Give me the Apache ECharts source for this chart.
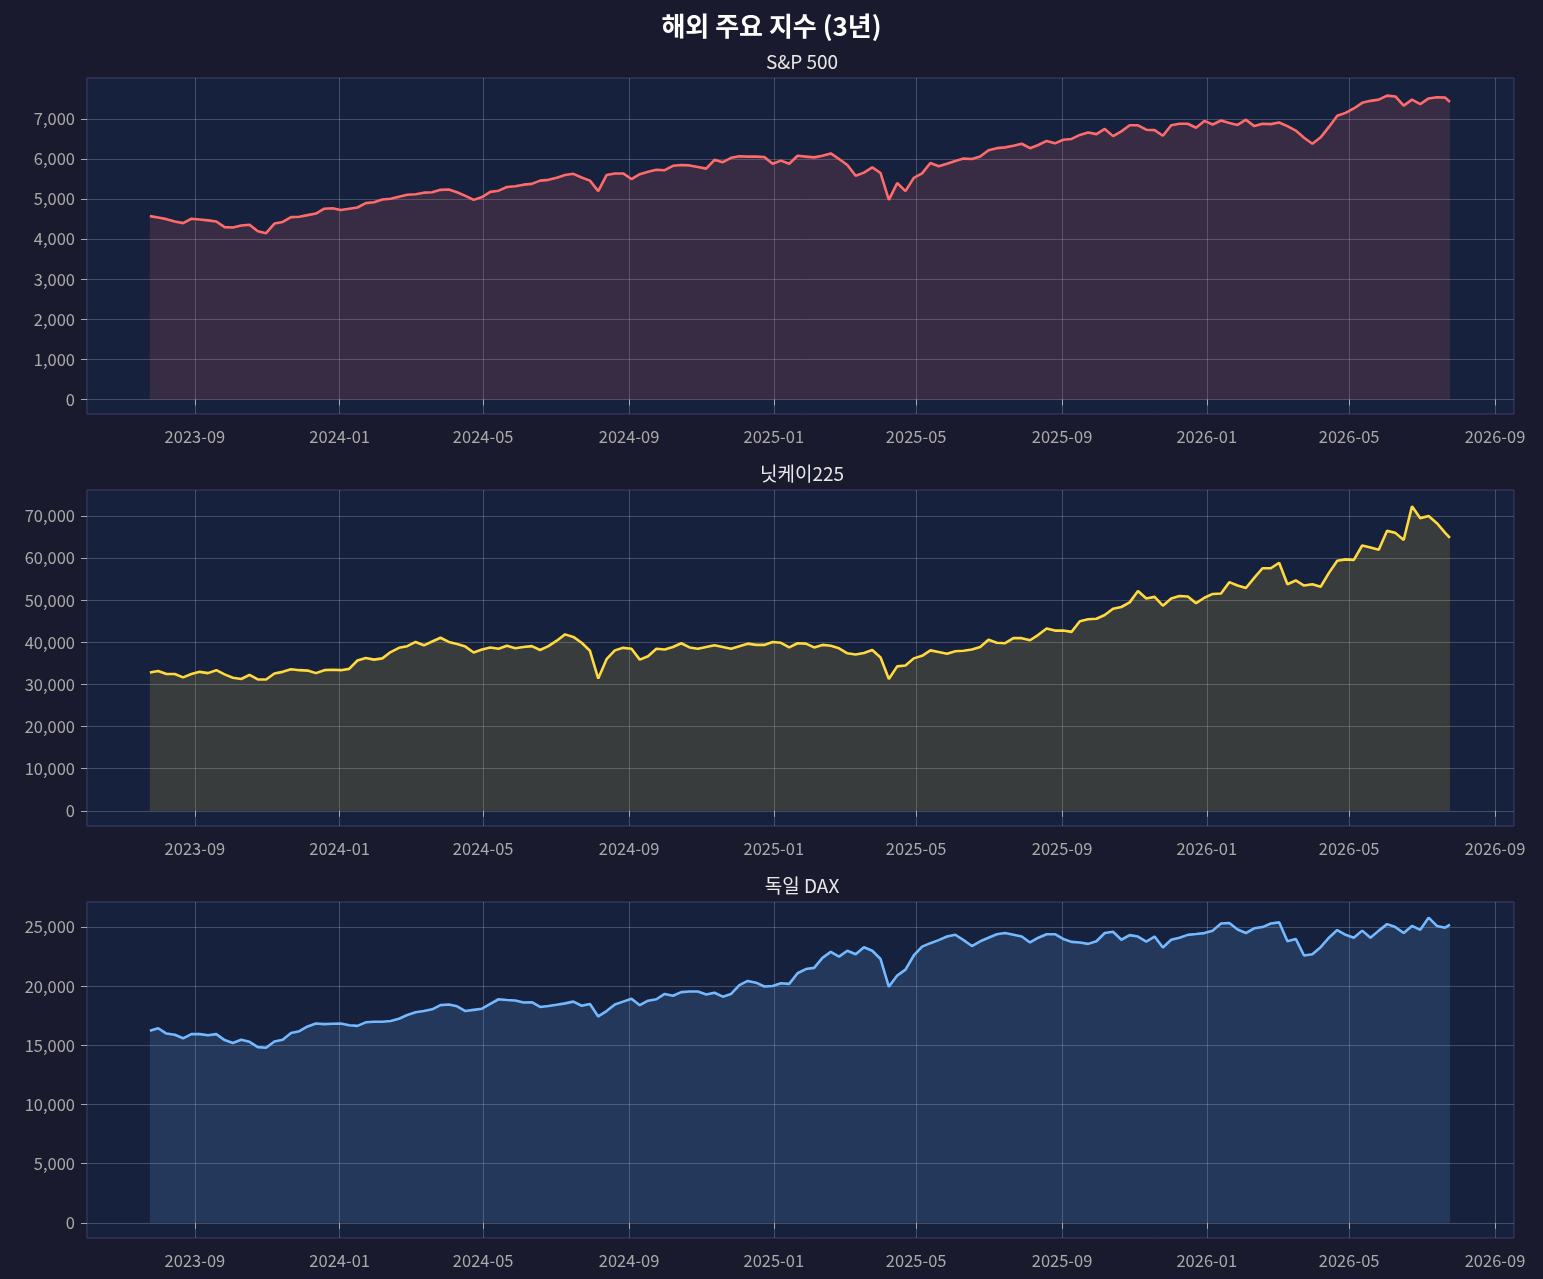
<!DOCTYPE html>
<html>
<head>
<meta charset="utf-8">
<script src="https://cdn.jsdelivr.net/npm/echarts@6/dist/echarts.min.js"></script>
<style>
html,body{margin:0;padding:0;background:#1a1a2e;}
#c{width:1543px;height:1279px;}
</style>
</head>
<body>
<div id="c"></div>
<script>
// ---- data (weekly samples) ----
const START_DATE = '2023-07-25';
const END_DATE = '2026-07-25';
const X_MIN_DATE = '2023-06-02';
const X_MAX_DATE = '2026-09-17';
const xTickLabels = ['2023-09','2024-01','2024-05','2024-09','2025-01','2025-05','2025-09','2026-01','2026-05','2026-09'];

const spx = [
4575,4540,4500,4440,4400,4510,4490,4470,4440,4300,
4290,4340,4360,4200,4150,4390,4430,4550,4560,4600,
4640,4760,4770,4730,4760,4790,4900,4920,4990,5010,
5060,5110,5120,5160,5170,5230,5240,5170,5080,4980,
5050,5180,5210,5300,5320,5360,5380,5460,5480,5530,
5600,5630,5540,5460,5200,5600,5640,5640,5500,5620,
5680,5730,5720,5830,5850,5840,5800,5760,5980,5920,
6030,6070,6060,6060,6050,5880,5960,5880,6080,6060,
6040,6080,6140,6000,5850,5580,5660,5790,5650,4980,
5400,5200,5530,5640,5900,5820,5880,5950,6010,6000,
6060,6220,6270,6290,6330,6380,6270,6350,6450,6390,
6480,6500,6600,6660,6620,6750,6570,6690,6840,6840,
6730,6720,6580,6840,6880,6880,6780,6950,6860,6960,
6900,6850,6980,6820,6880,6870,6910,6820,6710,6530,
6380,6540,6800,7080,7150,7260,7400,7450,7480,7580,
7560,7330,7480,7370,7510,7540,7530,7420
];
const nikkei = [
32850,33200,32500,32500,31700,32500,33000,32700,33400,32400,
31600,31300,32300,31200,31200,32600,33000,33600,33400,33300,
32700,33400,33500,33400,33700,35700,36300,35900,36200,37700,
38700,39100,40100,39300,40200,41100,40100,39600,39000,37600,
38300,38800,38500,39200,38600,38900,39100,38200,39100,40400,
41900,41300,39900,38000,31400,36000,38100,38700,38500,35900,
36700,38500,38300,38900,39800,38800,38500,38900,39300,38900,
38500,39100,39700,39400,39400,40100,39900,38800,39800,39700,
38800,39400,39200,38600,37400,37100,37500,38200,36400,31300,
34300,34500,36200,36800,38100,37700,37300,37900,38000,38300,
38900,40600,39900,39800,41000,41000,40500,41800,43300,42800,
42800,42500,45000,45500,45600,46500,48000,48400,49500,52200,
50400,50800,48700,50400,51000,50900,49300,50600,51500,51600,
54300,53500,52900,55300,57600,57600,58900,53800,54700,53500,
53800,53200,56500,59400,59700,59600,63000,62500,62000,66500,
66000,64300,72300,69500,70000,68300,66000,64800
];
const dax = [
16240,16450,16000,15900,15600,15950,15950,15850,15950,15450,
15200,15480,15300,14850,14800,15330,15480,16040,16200,16600,
16850,16800,16830,16850,16700,16650,16950,17000,17000,17060,
17250,17570,17800,17900,18050,18400,18450,18300,17900,18000,
18100,18500,18900,18840,18800,18620,18650,18250,18330,18430,
18550,18700,18350,18500,17450,17900,18450,18700,18950,18400,
18780,18900,19350,19200,19500,19550,19550,19300,19450,19120,
19350,20100,20450,20300,19980,20020,20250,20200,21100,21450,
21550,22400,22900,22500,23000,22700,23300,23000,22300,19950,
20900,21400,22600,23350,23640,23900,24200,24350,23900,23400,
23800,24100,24400,24500,24350,24200,23700,24100,24400,24400,
24000,23750,23700,23580,23800,24500,24600,23930,24320,24200,
23780,24200,23280,23930,24100,24340,24410,24490,24700,25300,
25350,24800,24500,24900,25000,25300,25400,23800,24000,22600,
22700,23300,24100,24750,24350,24100,24700,24100,24700,25250,
25000,24500,25100,24770,25800,25100,24950,25200
];

const panels = [
  {name:'S&P 500', values: spx, color:'#ff6b6b', yMin:-360, yMax:8020,
   yTicks:[0,1000,2000,3000,4000,5000,6000,7000]},
  {name:'닛케이225', values: nikkei, color:'#ffd93d', yMin:-3600, yMax:76180,
   yTicks:[0,10000,20000,30000,40000,50000,60000,70000]},
  {name:'독일 DAX', values: dax, color:'#74b9ff', yMin:-1280, yMax:27120,
   yTicks:[0,5000,10000,15000,20000,25000]}
];

// ---- build ----
const FONT = '"Noto Sans CJK KR", "Noto Sans", sans-serif';
const DAY = 86400000;
function ms(s){ const p = s.split('-').map(Number); return Date.UTC(p[0], p[1]-1, p[2] || 1); }
const t0 = ms(START_DATE), tEnd = ms(END_DATE);
function seriesData(vals){
  return vals.map((v,k) => [k === vals.length-1 ? tEnd : t0 + k*7*DAY, v]);
}
const xTicks = xTickLabels.map(s => ms(s + '-01'));
function fmtDate(v){
  const d = new Date(v);
  const m = d.getUTCMonth()+1;
  return d.getUTCFullYear() + '-' + (m<10?'0':'') + m;
}

const gridTops = [78, 490, 902];
const gridH = 336;
const grids = [], xAxes = [], yAxes = [], series = [], titles = [];

titles.push({text:'해외 주요 지수 (3년)', left:'center', top:8,
  textStyle:{color:'#ffffff', fontSize:26, fontWeight:'bold', fontFamily:FONT}});

panels.forEach((p,i) => {
  grids.push({left:87, right:29, top:gridTops[i], height:gridH, show:true,
    backgroundColor:'#16213e', borderColor:'#3c3f63', borderWidth:1, containLabel:false});
  titles.push({text:p.name, left:797, textAlign:'center', top:gridTops[i]-31,
    textStyle:{color:'#e8e8e8', fontSize:19, fontWeight:'normal', fontFamily:FONT}});
  xAxes.push({type:'value', gridIndex:i, min:ms(X_MIN_DATE), max:ms(X_MAX_DATE),
    axisLine:{show:false},
    axisTick:{show:true, length:6, lineStyle:{color:'#aaaaaa', width:1}, customValues:xTicks},
    axisLabel:{customValues:xTicks, formatter:fmtDate, color:'#aaaaaa', fontSize:16.5, margin:14, fontFamily:FONT},
    splitLine:{show:true, lineStyle:{color:'rgba(255,255,255,0.2)', width:1}}
  });
  yAxes.push({type:'value', gridIndex:i, min:p.yMin, max:p.yMax,
    axisLine:{show:false},
    axisTick:{show:true, length:6, lineStyle:{color:'#aaaaaa', width:1}, customValues:p.yTicks},
    axisLabel:{customValues:p.yTicks, formatter:v => Number(v).toLocaleString('en-US'),
      color:'#aaaaaa', fontSize:16.5, margin:12, fontFamily:FONT},
    splitLine:{show:true, lineStyle:{color:'rgba(255,255,255,0.2)', width:1}}
  });
  series.push({type:'line', xAxisIndex:i, yAxisIndex:i, data:seriesData(p.values),
    showSymbol:false, symbol:'none', silent:true, animation:false,
    lineStyle:{color:p.color, width:2.6},
    itemStyle:{color:p.color},
    areaStyle:{color:p.color, opacity:0.15, origin:0}
  });
});

const chart = echarts.init(document.getElementById('c'), null, {renderer:'canvas'});
chart.setOption({
  backgroundColor:'#1a1a2e',
  animation:false,
  title:titles,
  grid:grids,
  xAxis:xAxes,
  yAxis:yAxes,
  series:series
});
</script>
</body>
</html>
